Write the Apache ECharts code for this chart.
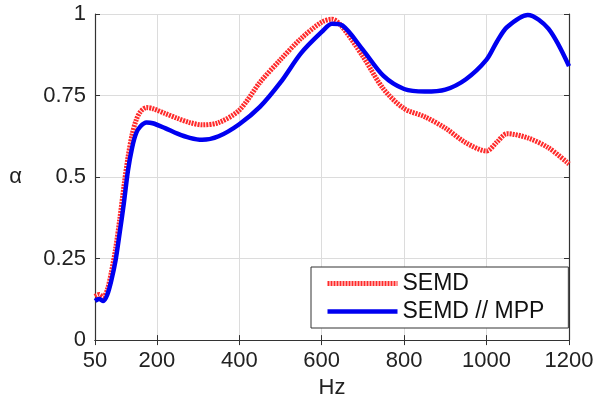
<!DOCTYPE html>
<html>
<head>
<meta charset="utf-8">
<script src="https://cdn.jsdelivr.net/npm/echarts@6/dist/echarts.min.js"></script>
<style>
    * { margin: 0; padding: 0; }
    body { background: #fff; }
</style>
</head>
<body>
<!-- container for the chart -->
<div id="main" style="width:606px;height:404px;"></div>
<script>
// frequencies (Hz)
var freq = [50, 60, 70, 80, 90, 100, 110, 120, 130, 140, 150, 160, 175, 190, 220, 250, 280, 310, 350, 400,
    450, 500, 550, 600, 625, 650, 700, 750, 800, 850, 900, 950, 1000, 1025, 1050, 1100, 1150, 1200];
// SEMD
var semd = [0.134, 0.14, 0.132, 0.155, 0.21, 0.28, 0.37, 0.47, 0.56, 0.63, 0.675, 0.70, 0.713, 0.71, 0.695, 0.68, 0.667, 0.66, 0.667, 0.705,
    0.79, 0.86, 0.925, 0.975, 0.984, 0.96, 0.87, 0.77, 0.71, 0.685, 0.65, 0.605, 0.58, 0.607, 0.633, 0.62, 0.59, 0.54];
// SEMD // MPP
var semdMpp = [0.12, 0.126, 0.12, 0.14, 0.185, 0.245, 0.33, 0.42, 0.52, 0.59, 0.635, 0.655, 0.667, 0.665, 0.65, 0.633, 0.62, 0.614, 0.625, 0.662,
    0.715, 0.79, 0.88, 0.945, 0.97, 0.965, 0.89, 0.81, 0.77, 0.762, 0.768, 0.8, 0.86, 0.915, 0.96, 0.997, 0.955, 0.84];
var xTicks = [50, 200, 400, 600, 800, 1000, 1200];
var seriesNames = ['SEMD', 'SEMD // MPP'];

function pairs(xs, ys) {
    var out = [];
    for (var i = 0; i < xs.length; i++) out.push([xs[i], ys[i]]);
    return out;
}

var font = "'Liberation Sans', Arial, sans-serif";
var axisColor = '#333';
var gridColor = '#dcdcdc';
var redStyle = { color: '#ff2a2a', width: 5, type: [2, 1] };
var blueStyle = { color: '#0000f0', width: 4.5 };

var chart = echarts.init(document.getElementById('main'));
chart.setOption({
    backgroundColor: '#fff',
    animation: false,
    textStyle: { fontFamily: font },
    grid: { left: 95, right: 37, top: 14, bottom: 62 },
    legend: {
        data: [
            { name: seriesNames[0], itemStyle: { opacity: 0 }, lineStyle: redStyle },
            { name: seriesNames[1], itemStyle: { opacity: 0 }, lineStyle: blueStyle }
        ],
        orient: 'vertical',
        left: 311,
        top: 267,
        padding: [5, 24, 5, 14],
        itemGap: 5,
        itemWidth: 70,
        itemHeight: 14,
        borderColor: '#333',
        borderWidth: 1,
        backgroundColor: '#fff',
        textStyle: { fontSize: 23, color: '#111', fontFamily: font }
    },
    xAxis: [{
        type: 'value',
        min: 50,
        max: 1200,
        name: 'Hz',
        nameLocation: 'middle',
        nameGap: 32,
        nameTextStyle: { fontSize: 22, color: '#222', fontFamily: font },
        axisLine: { lineStyle: { color: axisColor, width: 1.2 } },
        axisTick: { inside: true, length: 5, customValues: xTicks, lineStyle: { color: axisColor } },
        axisLabel: {
            customValues: xTicks, fontSize: 22, color: '#222', margin: 10,
            formatter: function (v) { return String(v); }
        },
        splitLine: { show: true, lineStyle: { color: gridColor, width: 1 } }
    }, {
        type: 'value',
        position: 'top',
        min: 50,
        max: 1200,
        axisLine: { lineStyle: { color: axisColor, width: 1.2 } },
        axisTick: { inside: true, length: 5, customValues: xTicks, lineStyle: { color: axisColor } },
        axisLabel: { show: false },
        splitLine: { show: false }
    }],
    yAxis: [{
        type: 'value',
        min: 0,
        max: 1,
        interval: 0.25,
        name: 'α',
        nameLocation: 'middle',
        nameGap: 73,
        nameRotate: 0,
        nameTextStyle: { fontSize: 22, color: '#222', fontFamily: font },
        axisLine: { show: true, lineStyle: { color: axisColor, width: 1.2 } },
        axisTick: { show: true, inside: true, length: 5, lineStyle: { color: axisColor } },
        axisLabel: { fontSize: 22, color: '#222', margin: 9 },
        splitLine: { show: true, lineStyle: { color: gridColor, width: 1 } }
    }, {
        type: 'value',
        position: 'right',
        min: 0,
        max: 1,
        interval: 0.25,
        axisLine: { show: true, lineStyle: { color: axisColor, width: 1.2 } },
        axisTick: { show: true, inside: true, length: 5, lineStyle: { color: axisColor } },
        axisLabel: { show: false },
        splitLine: { show: false }
    }],
    series: [{
        name: seriesNames[0],
        type: 'line',
        data: pairs(freq, semd),
        smooth: 0.3,
        showSymbol: false,
        symbol: 'none',
        z: 3,
        itemStyle: { color: redStyle.color },
        lineStyle: redStyle
    }, {
        name: seriesNames[1],
        type: 'line',
        data: pairs(freq, semdMpp),
        smooth: 0.3,
        showSymbol: false,
        symbol: 'none',
        z: 4,
        itemStyle: { color: blueStyle.color },
        lineStyle: blueStyle
    }]
});
</script>
</body>
</html>
